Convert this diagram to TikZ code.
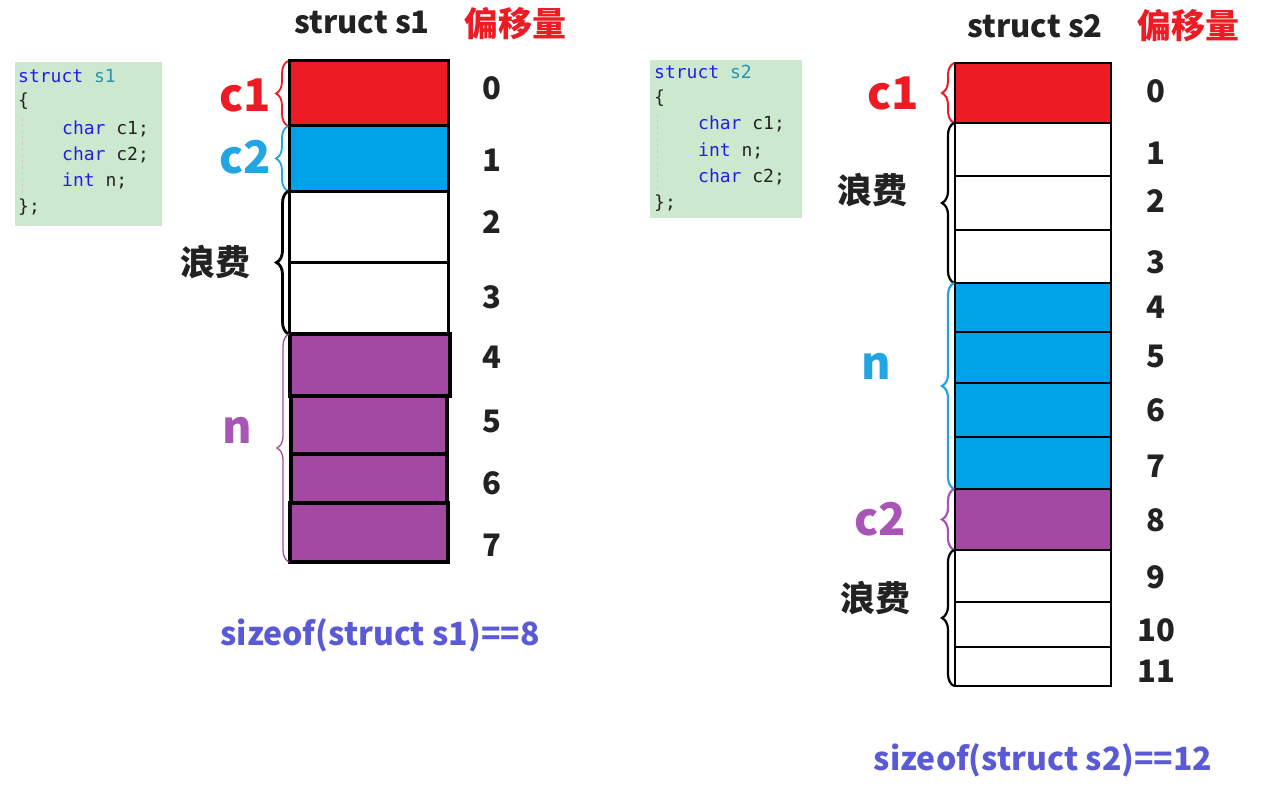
\documentclass[tikz,border=0pt]{standalone}
\usepackage{fontspec}
\usetikzlibrary{decorations.pathreplacing}
\newfontfamily\cjk{Noto Sans CJK SC}
\newfontfamily\codefont{DejaVu Sans Mono}
\definecolor{cred}{HTML}{ED1C24}
\definecolor{cblue}{HTML}{00A2E8}
\definecolor{cpurple}{HTML}{A349A4}
\definecolor{lblblue}{HTML}{22A6E3}
\definecolor{lblpurple}{HTML}{A955B6}
\definecolor{sizecol}{HTML}{5A5AD6}
\definecolor{codebg}{HTML}{CCE8CF}
\definecolor{kw}{HTML}{1F1FE6}
\definecolor{tname}{HTML}{2B91AF}
\definecolor{txt}{HTML}{222222}
\tikzset{
  cell/.style={draw=black, line width=3pt, inner sep=0pt, outer sep=0pt},
  cellA/.style={cell, minimum width=159},
  cellB/.style={cell, minimum width=156, line width=2.6pt},
  offs/.style={font=\cjk\bfseries\fontsize{31}{31}\selectfont, text=txt},
  title/.style={font=\cjk\bfseries\fontsize{31}{31}\selectfont, text=txt},
  ptitle/.style={font=\cjk\bfseries\fontsize{34}{34}\selectfont, text=cred},
  lbl/.style={font=\cjk\bfseries\fontsize{45}{45}\selectfont},
  waste/.style={font=\cjk\bfseries\fontsize{35}{35}\selectfont, text=txt},
  sizeof/.style={font=\cjk\bfseries\fontsize{32}{32}\selectfont, text=sizecol},
  brc/.style={decorate, decoration={brace, amplitude=12pt, raise=1pt}, line width=1.8pt},
  code/.style={font=\codefont\fontsize{18}{18}\selectfont, text=txt, anchor=west, inner sep=0pt},
  codebox/.style={fill=codebg, draw=none, inner sep=0pt},
}
\newcommand{\kwd}[1]{\textcolor{kw}{#1}}
\newcommand{\tnm}[1]{\textcolor{tname}{#1}}
\begin{document}
\begin{tikzpicture}[x=1pt, y=-1pt]
\useasboundingbox (0,0) rectangle (1263,789);

% ---------- code listings ----------
\node[codebox, minimum width=147, minimum height=164] (code1) at (88.5,144) {};
\draw[gray!40, dashed, line width=0.6pt] (22,118) -- (22,195);
\node[code] (l11) at (18,76) {\kwd{struct} \tnm{s1}};
\node[code] (l12) at (18,101) {\{};
\node[code] (l13) at (62,129) {\kwd{char} c1;};
\node[code] (l14) at (62,155) {\kwd{char} c2;};
\node[code] (l15) at (62,181) {\kwd{int} n;};
\node[code] (l16) at (18,207) {\};};

\node[codebox, minimum width=152, minimum height=158] (code2) at (726,139) {};
\draw[gray!40, dashed, line width=0.6pt] (657,114) -- (657,190);
\node[code] (l21) at (654,72) {\kwd{struct} \tnm{s2}};
\node[code] (l22) at (654,98) {\{};
\node[code] (l23) at (698,124) {\kwd{char} c1;};
\node[code] (l24) at (698,151) {\kwd{int} n;};
\node[code] (l25) at (698,177) {\kwd{char} c2;};
\node[code] (l26) at (654,203) {\};};

% ---------- struct s1 layout ----------
\node[title] (t1) at (362,22) {struct s1};
\node[ptitle] (p1) at (515,24) {偏移量};

\node[cellA, fill=cred,  minimum height=65] (a0) at (368.5,93.5) {};
\node[cellA, fill=cblue, minimum height=65] (a1) at (368.5,158.5) {};
\node[cellA, fill=white, minimum height=71] (a2) at (369,226.5) {};
\node[cellA, fill=white, minimum height=72] (a3) at (369,298) {};
\node[cellA, fill=cpurple, minimum height=62, line width=4.5pt, minimum width=160] (a4) at (370,365) {};
\node[cellA, fill=cpurple, minimum height=58, line width=4.5pt, minimum width=156] (a5) at (369,425) {};
\node[cellA, fill=cpurple, minimum height=49, line width=4.5pt, minimum width=156] (a6) at (369,478.5) {};
\node[cellA, fill=cpurple, minimum height=59, line width=4.5pt, minimum width=158] (a7) at (369,532.5) {};

\foreach \n/\y in {0/88,1/160,2/222,3/297,4/357,5/421,6/483,7/545}
  \node[offs] (o1\n) at (492,\y) {\n};

\draw[brc, cred]      (a0.south west) -- (a0.north west);
\draw[brc, lblblue]   (a1.south west) -- (a1.north west);
\draw[brc, black, line width=2.8pt] (a3.south west) -- (a2.north west);
\draw[brc, cpurple, line width=1.3pt] (a7.south west) -- (a4.north west);

\node[lbl, text=cred] (c1a) at (245,95) {c1};
\node[lbl, text=lblblue] (c2a) at (245,157) {c2};
\node[waste] (w1) at (215,262) {浪费};
\node[lbl, text=lblpurple] (na) at (237,430) {n};

\node[sizeof] (sz1) at (380,635) {sizeof(struct s1)==8};

% ---------- struct s2 layout ----------
\node[title] (t2) at (1035,26) {struct s2};
\node[ptitle] (p2) at (1188,26) {偏移量};

\node[cellB, fill=cred,    minimum height=60] (b0) at (1033,93) {};
\node[cellB, fill=white,   minimum height=53] (b1) at (1033,149.5) {};
\node[cellB, fill=white,   minimum height=54] (b2) at (1033,203) {};
\node[cellB, fill=white,   minimum height=53] (b3) at (1033,256.5) {};
\node[cellB, fill=cblue,   minimum height=49] (b4) at (1033,307.5) {};
\node[cellB, fill=cblue,   minimum height=51] (b5) at (1033,357.5) {};
\node[cellB, fill=cblue,   minimum height=54] (b6) at (1033,410) {};
\node[cellB, fill=cblue,   minimum height=52] (b7) at (1033,463) {};
\node[cellB, fill=cpurple, minimum height=61] (b8) at (1033,519.5) {};
\node[cellB, fill=white,   minimum height=52] (b9) at (1033,576) {};
\node[cellB, fill=white,   minimum height=45] (b10) at (1033,624.5) {};
\node[cellB, fill=white,   minimum height=39] (b11) at (1033,666.5) {};

\foreach \n/\y in {0/91,1/153,2/201,3/262,4/307,5/356,6/410,7/466,8/520,9/577,10/630,11/671}
  \node[offs] (o2\n) at (1156,\y) {\n};

\draw[brc, cred, line width=2pt] (b0.south west) -- (b0.north west);
\draw[brc, black, line width=2.2pt] (b3.south west) -- (b1.north west);
\draw[brc, lblblue, line width=2.2pt] (b7.south west) -- (b4.north west);
\draw[brc, lblpurple, line width=2.2pt] (b8.south west) -- (b8.north west);
\draw[brc, black, line width=2.2pt] (b11.south west) -- (b9.north west);

\node[lbl, text=cred] (c1b) at (893,93) {c1};
\node[waste] (w2) at (872,190) {浪费};
\node[lbl, text=lblblue] (nb) at (876,366) {n};
\node[lbl, text=lblpurple] (c2b) at (880,519) {c2};
\node[waste] (w3) at (875,598) {浪费};

\node[sizeof] (sz2) at (1043,760) {sizeof(struct s2)==12};
\end{tikzpicture}
\end{document}
